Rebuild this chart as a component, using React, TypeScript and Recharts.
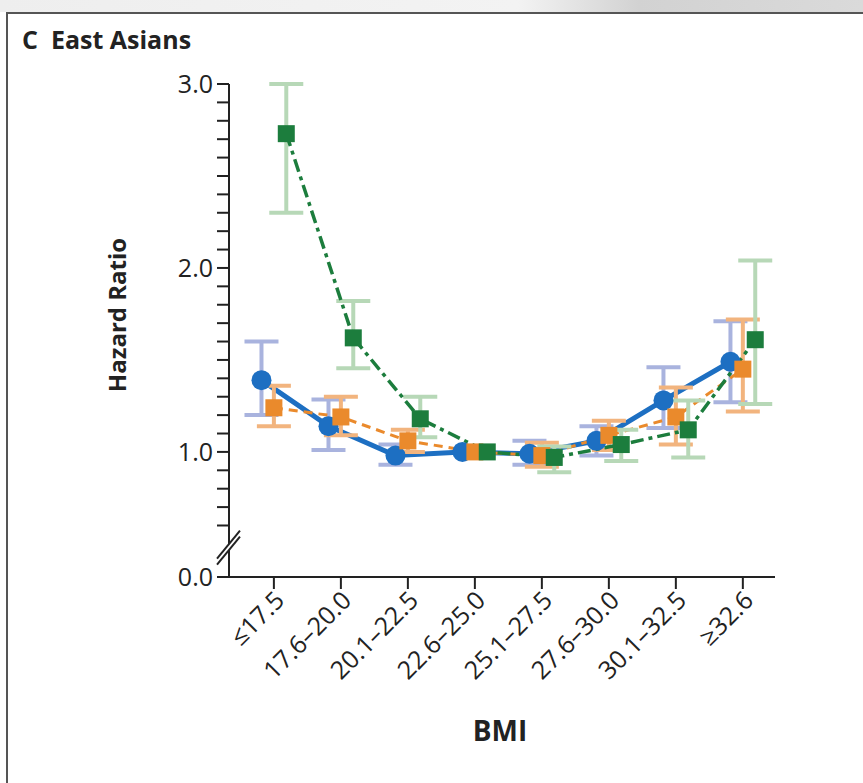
import { ComposedChart, Line, XAxis, YAxis, ErrorBar } from 'recharts';

// BMI groups on the x axis; 22.6–25.0 is the reference group
const bmiGroups = ['≤17.5', '17.6–20.0', '20.1–22.5', '22.6–25.0', '25.1–27.5', '27.6–30.0', '30.1–32.5', '≥32.6'];

// hazard ratios with lower / upper 95% CI (null = reference group, no CI)
const blueHr = [1.39, 1.14, 0.98, 1.0, 0.99, 1.06, 1.28, 1.49];
const blueLo = [1.2, 1.01, 0.93, null, 0.93, 0.98, 1.13, 1.27];
const blueHi = [1.6, 1.285, 1.04, null, 1.06, 1.14, 1.46, 1.71];

const orangeHr = [1.24, 1.19, 1.06, 1.0, 0.98, 1.09, 1.19, 1.45];
const orangeLo = [1.14, 1.09, 1.0, null, 0.92, 1.01, 1.04, 1.22];
const orangeHi = [1.36, 1.3, 1.12, null, 1.05, 1.17, 1.35, 1.72];

const greenHr = [2.73, 1.62, 1.18, 1.0, 0.97, 1.04, 1.12, 1.61];
const greenLo = [2.3, 1.455, 1.08, null, 0.89, 0.95, 0.97, 1.26];
const greenHi = [3.0, 1.82, 1.3, null, 1.03, 1.12, 1.28, 2.04];

// broken axis: 0.0 sits at Y_ZERO, break mark at Y_BREAK
const Y_ZERO = 0.32;
const Y_BREAK = 0.48;
const Y_MAX = 3.0;
const majorTicks = [1.0, 2.0, 3.0];
const yTicks = [
  Y_ZERO, Y_BREAK, 0.6, 0.7, 0.8, 0.9,
  1.0, 1.1, 1.2, 1.3, 1.4, 1.5, 1.6, 1.7, 1.8, 1.9,
  2.0, 2.1, 2.2, 2.3, 2.4, 2.5, 2.6, 2.7, 2.8, 2.9, 3.0,
];
const xTicks = [0, 1, 2, 3, 4, 5, 6, 7];

const X_MIN = -0.67;
const X_MAX = 7.48;
const DODGE = 0.185;

const W = 863;
const H = 783;
const PLOT_LEFT = 229;
const PLOT_TOP = 84;
const PLOT_RIGHT = 775;
const AXIS_Y = 577;
const Y_AXIS_W = 60;
const X_AXIS_H = 120;

const FONT = '"Open Sans", Arial, sans-serif';
const INK = '#222';

const colors = {
  blue: '#1d6fc2',
  blueCi: '#a9b3de',
  orange: '#ea8a2c',
  orangeCi: '#f2b47e',
  green: '#1c7d3d',
  greenCi: '#b7d8b7',
};

function buildSeries(hr: number[], lo: (number | null)[], hi: (number | null)[], shift: number) {
  return hr.map((v, i) => ({
    x: i + shift,
    hr: v,
    ci: lo[i] == null || hi[i] == null ? null : [v - (lo[i] as number), (hi[i] as number) - v],
  }));
}

const blueData = buildSeries(blueHr, blueLo, blueHi, -DODGE);
const orangeData = buildSeries(orangeHr, orangeLo, orangeHi, 0);
const greenData = buildSeries(greenHr, greenLo, greenHi, DODGE);

function YTick(props: any) {
  const { y, payload } = props;
  const v = payload.value;
  const ax = PLOT_LEFT;
  if (v === Y_BREAK) {
    return (
      <g>
        <line x1={ax - 12} y1={y + 14} x2={ax + 11} y2={y - 14} stroke="#fff" strokeWidth={4} />
        <line x1={ax - 12} y1={y + 11} x2={ax + 11} y2={y - 17} stroke={INK} strokeWidth={2} />
        <line x1={ax - 12} y1={y + 17} x2={ax + 11} y2={y - 11} stroke={INK} strokeWidth={2} />
      </g>
    );
  }
  const label = v === Y_ZERO ? '0.0' : majorTicks.includes(v) ? v.toFixed(1) : null;
  return (
    <g>
      <line x1={ax - 12} y1={y} x2={ax} y2={y} stroke={INK} strokeWidth={2} />
      {label && (
        <text x={ax - 16} y={y} dy="0.36em" textAnchor="end" fontFamily={FONT} fontSize={25} fill={INK}>
          {label}
        </text>
      )}
    </g>
  );
}

function XTick(props: any) {
  const { x, y, payload } = props;
  const ax = x + 12;
  const ay = y + 11;
  return (
    <text
      x={ax}
      y={ay}
      transform={`rotate(-45, ${ax}, ${ay})`}
      textAnchor="end"
      fontFamily={FONT}
      fontSize={25}
      fill={INK}
    >
      {bmiGroups[payload.value]}
    </text>
  );
}

function YLabel() {
  return (
    <text
      x={117}
      y={315}
      dy="0.36em"
      transform="rotate(-90, 117, 315)"
      textAnchor="middle"
      fontFamily={FONT}
      fontWeight={700}
      fontSize={24}
      fill={INK}
    >
      Hazard Ratio
    </text>
  );
}

function XLabel() {
  return (
    <text x={500} y={731} dy="0.36em" textAnchor="middle" fontFamily={FONT} fontWeight={700} fontSize={28} fill={INK}>
      BMI
    </text>
  );
}

const squareDot = (color: string) => (p: any) => (
  <rect key={p.index} x={p.cx - 8.5} y={p.cy - 8.5} width={17} height={17} fill={color} />
);

const circleDot = (color: string) => (p: any) => (
  <circle key={p.index} cx={p.cx} cy={p.cy} r={10} fill={color} />
);

export default function App() {
  return (
    <div style={{ position: 'absolute', left: 0, top: 0, width: W, height: H, background: '#fff', overflow: 'hidden' }}>
      <div style={{ position: 'absolute', left: 0, top: 0, width: W, height: 12, background: 'linear-gradient(90deg, #eeeeee 0%, #f3f3f3 60%, #d2d2d2 74%, #dadada 100%)' }} />
      <div style={{ position: 'absolute', left: 6, top: 12, width: W - 6, height: 2, background: '#555' }} />
      <div style={{ position: 'absolute', left: 6, top: 12, width: 2, height: H - 12, background: '#555' }} />
      <div style={{ position: 'absolute', left: 22, top: 22, fontFamily: FONT, fontWeight: 700, fontSize: 25, color: INK, whiteSpace: 'pre' }}>
        C{'  '}East Asians
      </div>
      <div style={{ position: 'absolute', left: 0, top: 0 }}>
        <ComposedChart
          width={W}
          height={H}
          margin={{
            top: PLOT_TOP,
            left: PLOT_LEFT - Y_AXIS_W,
            right: W - PLOT_RIGHT,
            bottom: H - AXIS_Y - X_AXIS_H,
          }}
        >
          <XAxis
            dataKey="x"
            type="number"
            domain={[X_MIN, X_MAX]}
            ticks={xTicks}
            allowDataOverflow
            height={X_AXIS_H}
            tickSize={12}
            tick={<XTick />}
            interval={0}
            axisLine={{ stroke: INK, strokeWidth: 2 }}
            tickLine={{ stroke: INK, strokeWidth: 2 }}
            label={<XLabel />}
          />
          <YAxis
            type="number"
            domain={[Y_ZERO, Y_MAX]}
            ticks={yTicks}
            allowDataOverflow
            width={Y_AXIS_W}
            interval={0}
            tickLine={false}
            tick={<YTick />}
            axisLine={{ stroke: INK, strokeWidth: 2 }}
            label={<YLabel />}
          />
          <Line
            data={blueData}
            dataKey="hr"
            stroke={colors.blue}
            strokeWidth={5}
            dot={circleDot(colors.blue)}
            activeDot={false}
            isAnimationActive={false}
          >
            <ErrorBar dataKey="ci" direction="y" width={17} stroke={colors.blueCi} strokeWidth={4} isAnimationActive={false} />
          </Line>
          <Line
            data={orangeData}
            dataKey="hr"
            stroke={colors.orange}
            strokeWidth={3}
            strokeDasharray="9 6"
            dot={squareDot(colors.orange)}
            activeDot={false}
            isAnimationActive={false}
          >
            <ErrorBar dataKey="ci" direction="y" width={17} stroke={colors.orangeCi} strokeWidth={4} isAnimationActive={false} />
          </Line>
          <Line
            data={greenData}
            dataKey="hr"
            stroke={colors.green}
            strokeWidth={3.5}
            strokeDasharray="13 5 4 5"
            dot={squareDot(colors.green)}
            activeDot={false}
            isAnimationActive={false}
          >
            <ErrorBar dataKey="ci" direction="y" width={17} stroke={colors.greenCi} strokeWidth={4} isAnimationActive={false} />
          </Line>
        </ComposedChart>
      </div>
    </div>
  );
}
